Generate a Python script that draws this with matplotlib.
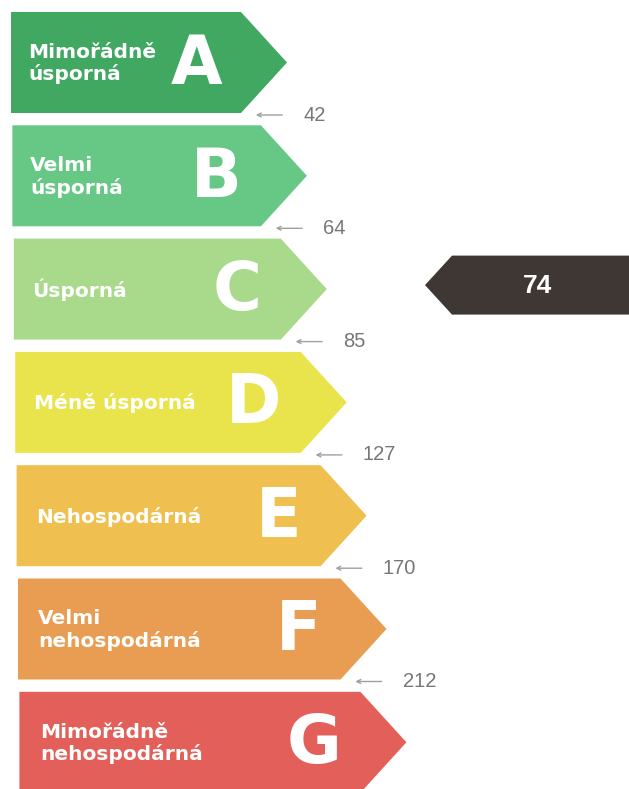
import matplotlib.pyplot as plt
from matplotlib.patches import Polygon

# energy classes
letters = ['A', 'B', 'C', 'D', 'E', 'F', 'G']
names = ['Mimořádně\núsporná', 'Velmi\núsporná', 'Úsporná', 'Méně úsporná',
         'Nehospodárná', 'Velmi\nnehospodárná', 'Mimořádně\nnehospodárná']
limits = [42, 64, 85, 127, 170, 212]
rating = 74
rating_class = 'C'

colors = ['#41a862', '#67c784', '#a9da8c', '#e9e44c', '#efc04f', '#e89d52', '#e3605a']

W, H = 629, 789
fig = plt.figure(figsize=(W / 100, H / 100), dpi=100)
ax = fig.add_axes([0, 0, 1, 1])
ax.set_xlim(0, W)
ax.set_ylim(H, 0)
ax.axis('off')

top0 = 12       # top of first bar
step = 113.3    # distance between bars
bh = 101        # bar height
left = 11
tip0 = 287      # tip of first arrow
dtip = 19.9
head = 46

for i, (let, name, col) in enumerate(zip(letters, names, colors)):
    top = top0 + i * step
    bot = top + bh
    mid = (top + bot) / 2
    tip = tip0 + i * dtip
    x = left + i * 1.4
    ax.add_patch(Polygon([(x, top), (tip - head, top), (tip, mid),
                          (tip - head, bot), (x, bot)],
                         closed=True, facecolor=col, edgecolor='none'))
    ax.text(x + 17 + i * 0.6, mid + 1, name, color='white', fontsize=14.5,
            fontweight='bold', family='DejaVu Sans', va='center',
            ha='left', linespacing=1.15)
    ax.text(tip - 65, mid + 2, let, color='white', fontsize=48,
            fontweight='bold', family='DejaVu Sans', va='center',
            ha='right')

# class boundaries
for i, v in enumerate(limits):
    y = top0 + i * step + bh + 2
    tip = tip0 + i * dtip
    ax.annotate('', xy=(tip - 34, y), xytext=(tip - 2, y),
                arrowprops=dict(arrowstyle='->', color='#a0a0a0', lw=1,
                                mutation_scale=7))
    ax.text(tip + 16, y, str(v), color='#777777', fontsize=14.5,
            family='Liberation Sans', va='center', ha='left')

# rating pointer
ci = letters.index(rating_class)
ry = top0 + ci * step + bh / 2 - 4
rh = 59
ax.add_patch(Polygon([(W + 5, ry - rh / 2), (452, ry - rh / 2), (425, ry),
                      (452, ry + rh / 2), (W + 5, ry + rh / 2)],
                     closed=True, facecolor='#3e3733', edgecolor='none'))
ax.text(537, ry + 1, str(rating), color='white', fontsize=19,
        fontweight='bold', family='Liberation Sans', va='center', ha='center')

fig.savefig('out.png', dpi=100, facecolor='white')
